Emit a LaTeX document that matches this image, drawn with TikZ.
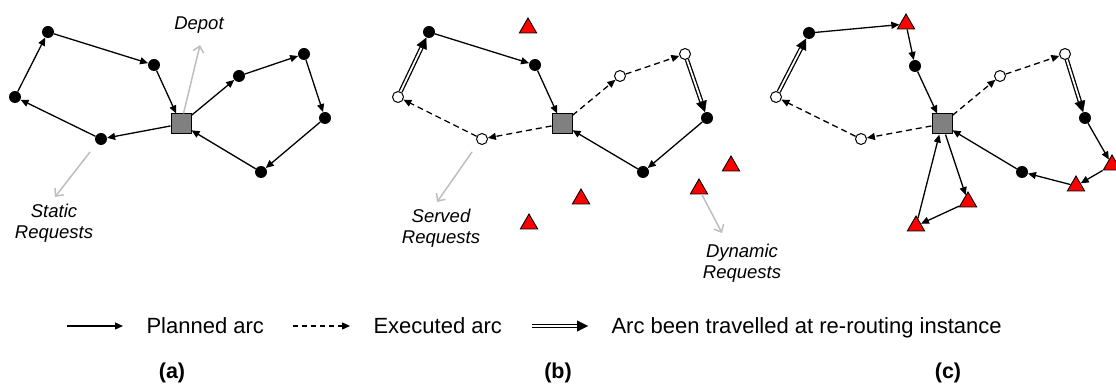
\documentclass[tikz,border=0pt]{standalone}
\usepackage{fontspec}
\setmainfont{Liberation Sans}
\usetikzlibrary{arrows.meta,shapes.geometric}

\definecolor{depotgray}{RGB}{128,128,128}
\definecolor{pointergray}{RGB}{190,190,190}
\definecolor{reqred}{RGB}{255,0,0}

\begin{document}
\begin{tikzpicture}[x=1pt,y=-1pt,
  stop/.style={circle,fill=black,inner sep=0pt,minimum size=12pt},
  served/.style={circle,draw=black,fill=white,line width=1pt,inner sep=0pt,minimum size=11pt},
  depot/.style={rectangle,draw=black,fill=depotgray,line width=1pt,inner sep=0pt,minimum size=20pt},
  dyn/.style={regular polygon,regular polygon sides=3,draw=black,fill=reqred,line width=0.9pt,inner sep=0pt,minimum size=20pt},
  planned/.style={draw,line width=1.3pt,-{Triangle[length=8pt,width=7pt]}},
  executed/.style={planned,dash pattern=on 6pt off 4pt},
  % double arc: a thick black stroke with a filled head, hollowed by a thin white stroke
  travelled/.style={draw,line width=4.4pt,-{Triangle[length=11pt,width=11pt,line width=0.4pt]},
    postaction={draw=white,line width=1.8pt,-,shorten >=11.5pt}},
  pointer/.style={draw=pointergray,line width=1.5pt,-{Straight Barb[length=6pt,width=11pt]}},
  note/.style={font=\fontsize{18.5}{20.5}\selectfont\itshape,align=center},
  legend/.style={font=\fontsize{22}{26}\selectfont,anchor=base west},
  caption/.style={font=\fontsize{21.5}{25}\selectfont\bfseries}
]
\useasboundingbox (0,0) rectangle (1116,387);

% ---------- (a) planned routes with static requests ----------
\node[depot] (aD)  at (181,124) {};
\node[stop]  (aP1) at (48,32)  {};
\node[stop]  (aP2) at (154,65) {};
\node[stop]  (aP3) at (15,97)  {};
\node[stop]  (aP4) at (101,139) {};
\node[stop]  (aR1) at (239,76) {};
\node[stop]  (aR2) at (304,54) {};
\node[stop]  (aR3) at (325,118) {};
\node[stop]  (aR4) at (261,172) {};
\path[planned] (aD) -- (aP4);
\path[planned] (aP4) -- (aP3);
\path[planned] (aP3) -- (aP1);
\path[planned] (aP1) -- (aP2);
\path[planned] (aP2) -- (aD);
\path[planned] (aD) -- (aR1);
\path[planned] (aR1) -- (aR2);
\path[planned] (aR2) -- (aR3);
\path[planned] (aR3) -- (aR4);
\path[planned] (aR4) -- (aD);

\node[note] (lDepot) at (199,25) {Depot};
\coordinate (pDepot) at (200,45);
\path[pointer] (aD) -- (pDepot);
\node[note] (lStatic) at (54,223) {Static\\Requests};
\coordinate (pStatic0) at (90,152);
\coordinate (pStatic1) at (55,197);
\path[pointer] (pStatic0) -- (pStatic1);

% ---------- (b) state at the re-routing instance ----------
\begin{scope}[shift={(381,0)}]
\node[depot]  (bD)  at (181,124) {};
\node[stop]   (bP1) at (48,32)  {};
\node[stop]   (bP2) at (154,65) {};
\node[served] (bP3) at (17,97)  {};
\node[served] (bP4) at (101,139) {};
\node[served] (bR1) at (239,76) {};
\node[served] (bR2) at (304,54) {};
\node[stop]   (bR3) at (326,118) {};
\node[stop]   (bR4) at (262,172) {};
\node[dyn] (bT1) at (147,28) {};
\node[dyn] (bT2) at (350,166) {};
\node[dyn] (bT3) at (318,189) {};
\node[dyn] (bT4) at (200,199) {};
\node[dyn] (bT5) at (148,224) {};
\path[executed]  (bD) -- (bP4);
\path[executed]  (bP4) -- (bP3);
\path[travelled] (bP3) -- (bP1);
\path[planned]   (bP1) -- (bP2);
\path[planned]   (bP2) -- (bD);
\path[executed]  (bD) -- (bR1);
\path[executed]  (bR1) -- (bR2);
\path[travelled] (bR2) -- (bR3);
\path[planned]   (bR3) -- (bR4);
\path[planned]   (bR4) -- (bD);

\node[note] (lServed) at (60,228) {Served\\Requests};
\coordinate (pServed0) at (91,152);
\coordinate (pServed1) at (56,202);
\path[pointer] (pServed0) -- (pServed1);
\node[note] (lDynamic) at (361,263) {Dynamic\\Requests};
\coordinate (pDynamic) at (341,233);
\path[pointer] (bT3) -- (pDynamic);
\end{scope}

% ---------- (c) re-optimised routes ----------
\begin{scope}[shift={(761,0)}]
\node[depot]  (cD)  at (181,124) {};
\node[stop]   (cP1) at (48,33)  {};
\node[dyn]    (cT1) at (145,24) {};
\node[stop]   (cP2) at (154,66) {};
\node[served] (cP3) at (15,97)  {};
\node[served] (cP4) at (100,139) {};
\node[served] (cR1) at (239,76) {};
\node[served] (cR2) at (304,54) {};
\node[stop]   (cR3) at (324,118) {};
\node[dyn]    (cT2) at (351,165) {};
\node[dyn]    (cT3) at (315,186) {};
\node[stop]   (cR4) at (261,172) {};
\node[dyn]    (cT4) at (207,202) {};
\node[dyn]    (cT5) at (155,226) {};
\path[travelled] (cP3) -- (cP1);
\path[planned]   (cP1) -- (cT1);
\path[planned]   (cT1) -- (cP2);
\path[planned]   (cP2) -- (cD);
\path[executed]  (cD) -- (cP4);
\path[executed]  (cP4) -- (cP3);
\path[executed]  (cD) -- (cR1);
\path[executed]  (cR1) -- (cR2);
\path[travelled] (cR2) -- (cR3);
\path[planned]   (cR3) -- (cT2);
\path[planned]   (cT2) -- (cT3);
\path[planned]   (cT3) -- (cR4);
\path[planned]   (cR4) -- (cD);
\path[planned]   (cD) -- (cT4);
\path[planned]   (cT4) -- (cT5);
\path[planned]   (cT5) -- (cD);
\end{scope}

% ---------- legend ----------
\coordinate (lgA0) at (67,326);
\coordinate (lgA1) at (123,326);
\path[planned] (lgA0) -- (lgA1);
\node[legend] (lgAtxt) at (143,333) {Planned arc};
\coordinate (lgB0) at (293,326);
\coordinate (lgB1) at (350,326);
\path[executed,dash pattern=on 5pt off 4pt] (lgB0) -- (lgB1);
\node[legend] (lgBtxt) at (370,333) {Executed arc};
\coordinate (lgC0) at (532,326);
\coordinate (lgC1) at (588,326);
\path[travelled] (lgC0) -- (lgC1);
\node[legend] (lgCtxt) at (608,333) {Arc been travelled at re-routing instance};

% ---------- panel captions ----------
\node[caption] (capA) at (172,373) {(a)};
\node[caption] (capB) at (558,373) {(b)};
\node[caption] (capC) at (948,373) {(c)};
\end{tikzpicture}
\end{document}
